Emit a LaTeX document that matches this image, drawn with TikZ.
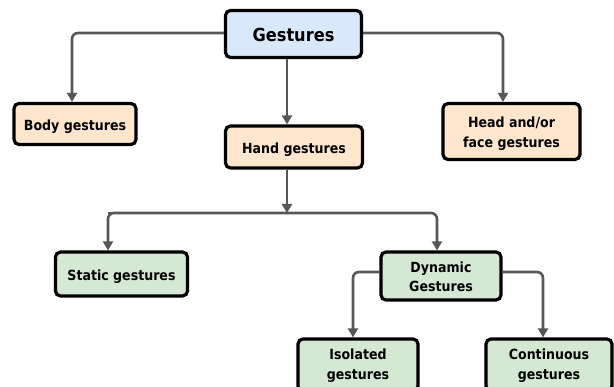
\documentclass[tikz,border=0pt]{standalone}
\usepackage{fontspec}
\setmainfont{DejaVu Sans}
\newfontfamily\boxfont{DejaVu Sans Condensed}
\usetikzlibrary{arrows.meta}
\definecolor{bluefill}{HTML}{DAE8FC}
\definecolor{peachfill}{HTML}{FFE6CC}
\definecolor{greenfill}{HTML}{D5E8D4}
\definecolor{linegray}{HTML}{575757}
\newcommand{\lowered}[2]{\raisebox{-#1}[\height][\depth]{#2}}
\newcommand{\twolines}[3]{\lowered{#1}{\begin{tabular}{@{}c@{}}#2\\#3\end{tabular}}}
\tikzset{
  box/.style={draw=black, line width=3.2pt, rounded corners=5pt, align=center,
    font=\boxfont\bfseries\fontsize{14}{20}\selectfont, inner sep=0pt},
  conn/.style={draw=linegray, line width=2.6pt, rounded corners=6pt,
    -{Triangle[length=9pt,width=10pt]}},
  plain/.style={draw=linegray, line width=2.6pt, rounded corners=6pt}
}
\begin{document}
\begin{tikzpicture}[x=1pt,y=-1pt]
\useasboundingbox (0,0) rectangle (614,387);
\node[box, fill=bluefill, minimum width=136pt, minimum height=47pt,
  font=\boxfont\bfseries\fontsize{18}{20}\selectfont] (g) at (293.5,34) {\lowered{1pt}{Gestures}};
\node[box, fill=peachfill, minimum width=122pt, minimum height=41pt] (body) at (75,124) {\lowered{2.5pt}{Body gestures}};
\node[box, fill=peachfill, minimum width=137pt, minimum height=42pt] (hand) at (294,147) {\lowered{2.5pt}{Hand gestures}};
\node[box, fill=peachfill, minimum width=137pt, minimum height=56pt] (head) at (511.5,131.5) {\twolines{2.5pt}{Head and/or}{face gestures}};
\node[box, fill=greenfill, minimum width=132pt, minimum height=44pt] (static) at (121.5,274) {\lowered{2.5pt}{Static gestures}};
\node[box, fill=greenfill, minimum width=120pt, minimum height=48pt,
  font=\boxfont\bfseries\fontsize{14}{19}\selectfont] (dyn) at (441,276) {\twolines{2.5pt}{Dynamic}{Gestures}};
\node[box, fill=greenfill, minimum width=120pt, minimum height=52pt] (iso) at (358,365) {\twolines{1pt}{Isolated}{gestures}};
\node[box, fill=greenfill, minimum width=126pt, minimum height=52pt] (cont) at (549,365) {\twolines{1pt}{Continuous}{gestures}};
\coordinate (split) at (287,213);
% connectors
\draw[conn] (g.west |- 0,33) -| (body.north -| 72,0);
\draw[conn] (g.east |- 0,33) -| (head.north -| 503,0);
\draw[conn] (g.south -| 287,0) -- (hand.north -| 287,0);
\draw[conn] (hand.south -| 287,0) -- (split);
\draw[plain] (split) -- (108,213);
\draw[conn] (split) -| (static.north -| 108,0);
\draw[conn] (split) -| (dyn.north -| 437,0);
\draw[conn] (dyn.west |- 0,272) -| (iso.north -| 353,0);
\draw[conn] (dyn.east |- 0,272) -| (cont.north -| 543,0);
\end{tikzpicture}
\end{document}
